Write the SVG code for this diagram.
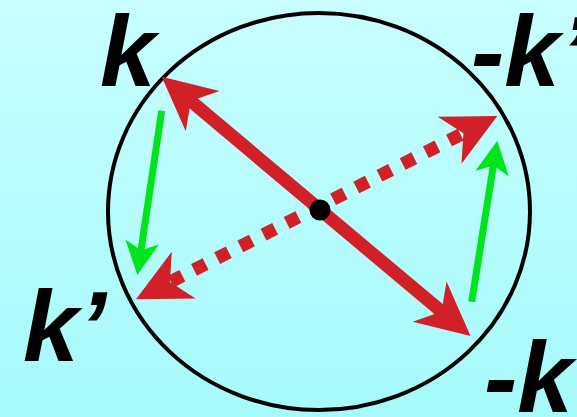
<svg xmlns="http://www.w3.org/2000/svg" width="577" height="417" viewBox="0 0 577 417">
  <defs>
    <linearGradient id="bg" x1="0" y1="0" x2="0" y2="1">
      <stop offset="0" stop-color="#C8FEFE"/>
      <stop offset="1" stop-color="#A6FAFA"/>
    </linearGradient>
    <marker id="redHead" markerUnits="userSpaceOnUse" viewBox="-60 -30 64 60" markerWidth="64" markerHeight="60" refX="-38" refY="0" orient="auto-start-reverse" overflow="visible">
      <path d="M0,0 L-53.5,-26.3 L-38,0 L-53.5,26.3 Z" fill="#D22028"/>
    </marker>
    <marker id="greenHead" markerUnits="userSpaceOnUse" viewBox="-40 -20 44 40" markerWidth="44" markerHeight="40" refX="-25" refY="0" orient="auto" overflow="visible">
      <path d="M0,0 L-33.5,-17 L-25,0 L-33.5,17 Z" fill="#00E41C"/>
    </marker>
  </defs>
  <style>
    .label { font-family: "Liberation Sans", Arial, sans-serif; font-weight: bold; font-style: italic; font-size: 100px; fill: #000; }
    .red { fill: none; stroke: #D22028; stroke-width: 13; }
    .dotted { stroke-dasharray: 13 13; stroke-dashoffset: -1; }
    .green { fill: none; stroke: #00E41C; stroke-width: 7; marker-end: url(#greenHead); }
  </style>
  <rect x="0" y="0" width="577" height="417" fill="url(#bg)"/>
  <g id="circle">
    <ellipse cx="319" cy="211.5" rx="211" ry="198.5" fill="none" stroke="#000" stroke-width="4"/>
  </g>
  <g id="connectors">
    <path id="k-to-minus-k" class="red" d="M190.8,101.1 L441.5,311.6" marker-start="url(#redHead)" marker-end="url(#redHead)"/>
    <path id="kp-to-minus-kp" class="red dotted" d="M169.9,282.1 L463.4,133.2" marker-start="url(#redHead)" marker-end="url(#redHead)"/>
    <path id="green-left" class="green" d="M161.7,110.7 L141,250.3"/>
    <path id="green-right" class="green" d="M471.7,301.7 L493.4,165.4"/>
  </g>
  <g id="origin">
    <circle cx="320" cy="210" r="10.5" fill="#000"/>
  </g>
  <g id="label-k"><text class="label" x="100" y="86">k</text></g>
  <g id="label-minus-kp"><text class="label" x="471" y="86">-k’</text></g>
  <g id="label-kp"><text class="label" x="23" y="361">k’</text></g>
  <g id="label-minus-k"><text class="label" x="484" y="412">-k</text></g>
</svg>
